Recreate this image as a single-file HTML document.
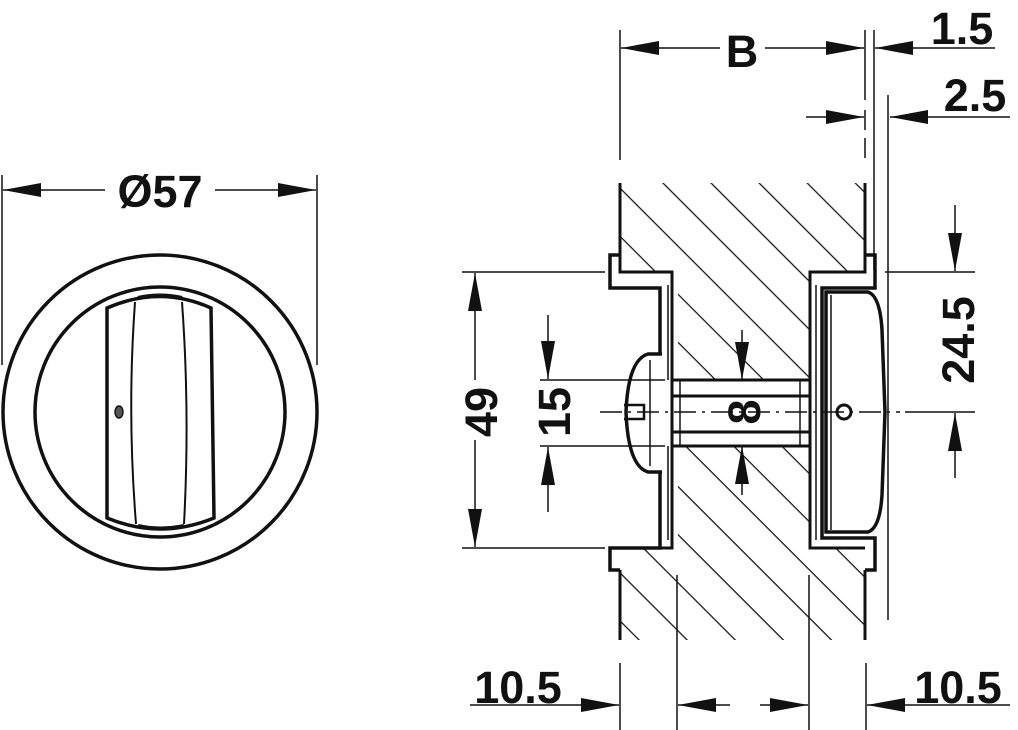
<!DOCTYPE html>
<html><head><meta charset="utf-8"><style>
html,body{margin:0;padding:0;background:#fff;}
svg{display:block;}
text{font-family:"Liberation Sans",sans-serif;font-weight:bold;font-size:45px;fill:#111;}
</style></head><body>
<svg width="1018" height="730" viewBox="0 0 1018 730" xmlns="http://www.w3.org/2000/svg">
<defs>
<pattern id="h" patternUnits="userSpaceOnUse" width="40" height="34" patternTransform="rotate(45)">
<line x1="0" y1="0" x2="40" y2="0" stroke="#111" stroke-width="2.4"/>
</pattern>
</defs>
<g stroke="#111" fill="none">
<circle cx="160" cy="412" r="157" stroke-width="3.5"/>
<circle cx="160" cy="412" r="125" stroke-width="3.5"/>
<path d="M107,308 Q160,285 211,308 L214,518 Q160,540 107,518 Z" stroke-width="3.5" fill="#fff"/>
<path d="M135,302 Q127,412 136,524 M182,302 Q190,412 184,524" stroke-width="2"/>
<path d="M138,298 Q160,293 182,298" stroke-width="4"/>
<path d="M138,526 Q160,531 184,526" stroke-width="4"/>
<ellipse cx="119" cy="412" rx="4" ry="6" fill="#555" stroke-width="1.5"/>
<line x1="2" y1="175" x2="2" y2="365" stroke-width="1.5"/>
<line x1="317" y1="175" x2="317" y2="365" stroke-width="1.5"/>
<line x1="105" y1="190" x2="3" y2="190" stroke-width="1.5"/>
<line x1="215" y1="190" x2="316" y2="190" stroke-width="1.5"/>

<path d="M620,183 H865 V272 H810 V380 H678 V272 H620 Z M678,446 H810 V548 H865 V640 H620 V548 H678 Z" fill="url(#h)" stroke="none"/>
<path d="M620,183 V255 M620,570 V640 M865,183 V255 M865,570 V640" stroke-width="3"/>
<path d="M620,255 H610 V288 H660 V548 H610 V570 H620" stroke-width="3.5" fill="#fff"/>
<path d="M620,255 V272 H672 V380 M672,446 V548 H620" stroke-width="3"/>
<path d="M668,285 V380 M668,446 V540" stroke-width="1.5"/>
<path d="M865,255 H875 V288 H822 V538 H875 V570 H865" stroke-width="3.5" fill="#fff"/>
<path d="M865,255 V272 H810 V380 M810,446 V548 H865" stroke-width="3"/>
<path d="M816,285 V540" stroke-width="1.5"/>
<path d="M826,292 H868 Q880,296 882,330 L885,412 L882,495 Q880,528 868,532 H826 Z" stroke-width="3.5" fill="#fff"/>
<line x1="831" y1="295" x2="831" y2="530" stroke-width="1.5"/>
<circle cx="844" cy="412" r="7" stroke-width="3"/>
<rect x="672" y="380" width="138" height="66" stroke-width="3" fill="#fff"/>
<path d="M672,396 H810 M672,432 H810" stroke-width="3"/>
<path d="M680,380 V446 M800,380 V446" stroke-width="1.5"/>
<path d="M662,354 H648 Q628,360 626,412 Q628,466 648,472 H662" stroke-width="3.5" fill="#fff"/>
<path d="M624,405 H644 V419 H624" stroke-width="2.5"/>
<line x1="650" y1="360" x2="650" y2="466" stroke-width="1.5"/>
<line x1="600" y1="412" x2="900" y2="412" stroke-width="1.5" stroke-dasharray="22,6,3,6"/>

<line x1="620" y1="30" x2="620" y2="160" stroke-width="1.5"/>
<line x1="865" y1="30" x2="865" y2="100" stroke-width="1.5"/>
<line x1="865" y1="110" x2="865" y2="160" stroke-width="1.5" stroke-dasharray="20,8"/>
<line x1="874" y1="30" x2="874" y2="270" stroke-width="1.5"/>
<line x1="888" y1="95" x2="888" y2="620" stroke-width="1.5"/>
<line x1="720" y1="48" x2="621" y2="48" stroke-width="1.5"/>
<line x1="765" y1="48" x2="864" y2="48" stroke-width="1.5"/>
<line x1="995" y1="48" x2="875" y2="48" stroke-width="1.5"/>
<line x1="806" y1="117" x2="864" y2="117" stroke-width="1.5"/>
<line x1="1010" y1="117" x2="890" y2="117" stroke-width="1.5"/>

<line x1="462" y1="272" x2="605" y2="272" stroke-width="1.5"/>
<line x1="462" y1="548" x2="605" y2="548" stroke-width="1.5"/>
<line x1="475" y1="380" x2="475" y2="273" stroke-width="1.5"/>
<line x1="475" y1="440" x2="475" y2="547" stroke-width="1.5"/>
<line x1="540" y1="380" x2="665" y2="380" stroke-width="1.5"/>
<line x1="540" y1="446" x2="665" y2="446" stroke-width="1.5"/>
<line x1="548" y1="315" x2="548" y2="379" stroke-width="1.5"/>
<line x1="548" y1="512" x2="548" y2="447" stroke-width="1.5"/>
<line x1="742" y1="330" x2="742" y2="380" stroke-width="1.5"/>
<line x1="742" y1="495" x2="742" y2="446" stroke-width="1.5"/>
<line x1="885" y1="272" x2="975" y2="272" stroke-width="1.5"/>
<line x1="905" y1="412" x2="975" y2="412" stroke-width="1.5"/>
<line x1="955" y1="205" x2="955" y2="271" stroke-width="1.5"/>
<line x1="955" y1="478" x2="955" y2="413" stroke-width="1.5"/>
<line x1="620" y1="663" x2="620" y2="730" stroke-width="1.5"/>
<line x1="677" y1="575" x2="677" y2="730" stroke-width="1.5"/>
<line x1="809" y1="575" x2="809" y2="730" stroke-width="1.5"/>
<line x1="866" y1="663" x2="866" y2="730" stroke-width="1.5"/>
<line x1="470" y1="705" x2="619" y2="705" stroke-width="1.5"/>
<line x1="730" y1="705" x2="678" y2="705" stroke-width="1.5"/>
<line x1="760" y1="705" x2="808" y2="705" stroke-width="1.5"/>
<line x1="1010" y1="705" x2="867" y2="705" stroke-width="1.5"/>
</g>
<g fill="#111" stroke="none">
<!-- left-pointing -->
<polygon points="3,190 41,183 41,197"/>
<polygon points="621,48 659,41 659,55"/>
<polygon points="875,48 913,41 913,55"/>
<polygon points="890,117 928,110 928,124"/>
<polygon points="678,705 716,698 716,712"/>
<polygon points="867,705 905,698 905,712"/>
<!-- right-pointing -->
<polygon points="316,190 278,183 278,197"/>
<polygon points="864,48 826,41 826,55"/>
<polygon points="864,117 826,110 826,124"/>
<polygon points="619,705 581,698 581,712"/>
<polygon points="808,705 770,698 770,712"/>
<!-- up-pointing -->
<polygon points="475,273 468,311 482,311"/>
<polygon points="548,447 541,485 555,485"/>
<polygon points="742,446 735,484 749,484"/>
<polygon points="955,413 948,451 962,451"/>
<!-- down-pointing -->
<polygon points="475,547 468,509 482,509"/>
<polygon points="548,379 541,341 555,341"/>
<polygon points="742,380 735,342 749,342"/>
<polygon points="955,271 948,233 962,233"/>
</g>
<text x="160" y="207" text-anchor="middle">Ø57</text>
<text x="742" y="67" text-anchor="middle">B</text>
<text x="962" y="44" text-anchor="middle">1.5</text>
<text x="975" y="111" text-anchor="middle">2.5</text>
<text x="518" y="703" text-anchor="middle">10.5</text>
<text x="958" y="703" text-anchor="middle">10.5</text>
<text transform="translate(497,412) rotate(-90)" text-anchor="middle">49</text>
<text transform="translate(570,412) rotate(-90)" text-anchor="middle">15</text>
<text transform="translate(760,412) rotate(-90)" text-anchor="middle">8</text>
<text transform="translate(974,340) rotate(-90)" text-anchor="middle">24.5</text>
</svg>
</body></html>
